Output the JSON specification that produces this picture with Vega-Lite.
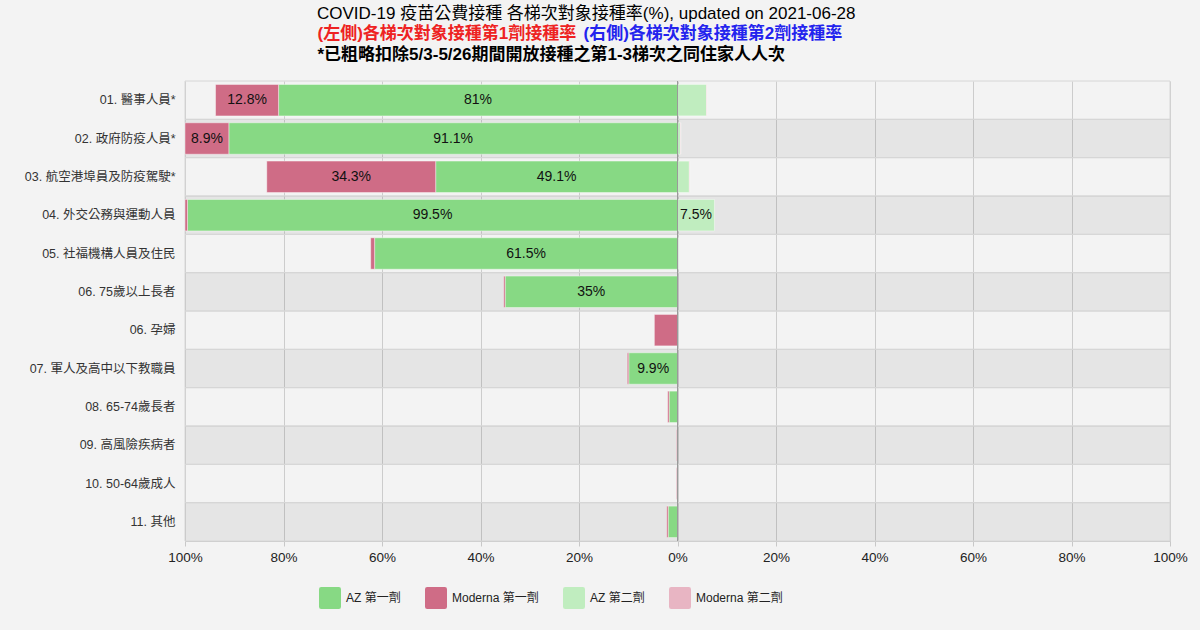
{
  "$schema": "https://vega.github.io/schema/vega-lite/v6.json",
  "width": 985,
  "height": 460,
  "autosize": "none",
  "padding": {"left": 185, "top": 81, "right": 30, "bottom": 89},
  "background": "#f3f3f3",
  "config": {
    "font": "Liberation Sans, Noto Sans CJK TC",
    "view": {"stroke": null}
  },
  "title": {
    "text": "COVID-19 疫苗公費接種 各梯次對象接種率(%), updated on 2021-06-28",
    "anchor": "start",
    "frame": "group",
    "dx": 132,
    "dy": 18,
    "offset": 2,
    "baseline": "bottom",
    "fontSize": 17,
    "fontWeight": "normal",
    "color": "#000000"
  },
  "data": {
    "values": [
      {"group": "01. 醫事人員*", "series": "AZ 第一劑", "x": -81},
      {"group": "01. 醫事人員*", "series": "Moderna 第一劑", "x": -12.8},
      {"group": "01. 醫事人員*", "series": "AZ 第二劑", "x": 5.9},
      {"group": "01. 醫事人員*", "series": "Moderna 第二劑", "x": 0.1},
      {"group": "02. 政府防疫人員*", "series": "AZ 第一劑", "x": -91.1},
      {"group": "02. 政府防疫人員*", "series": "Moderna 第一劑", "x": -8.9},
      {"group": "02. 政府防疫人員*", "series": "AZ 第二劑", "x": 0.6},
      {"group": "02. 政府防疫人員*", "series": "Moderna 第二劑", "x": 0.1},
      {"group": "03. 航空港埠員及防疫駕駛*", "series": "AZ 第一劑", "x": -49.1},
      {"group": "03. 航空港埠員及防疫駕駛*", "series": "Moderna 第一劑", "x": -34.3},
      {"group": "03. 航空港埠員及防疫駕駛*", "series": "AZ 第二劑", "x": 2.4},
      {"group": "03. 航空港埠員及防疫駕駛*", "series": "Moderna 第二劑", "x": 0.1},
      {"group": "04. 外交公務與運動人員", "series": "AZ 第一劑", "x": -99.5},
      {"group": "04. 外交公務與運動人員", "series": "Moderna 第一劑", "x": -0.5},
      {"group": "04. 外交公務與運動人員", "series": "AZ 第二劑", "x": 7.5},
      {"group": "05. 社福機構人員及住民", "series": "AZ 第一劑", "x": -61.5},
      {"group": "05. 社福機構人員及住民", "series": "Moderna 第一劑", "x": -0.8},
      {"group": "05. 社福機構人員及住民", "series": "AZ 第二劑", "x": 0.2},
      {"group": "06. 75歲以上長者", "series": "AZ 第一劑", "x": -35},
      {"group": "06. 75歲以上長者", "series": "Moderna 第一劑", "x": -0.3},
      {"group": "06. 孕婦", "series": "Moderna 第一劑", "x": -4.7},
      {"group": "07. 軍人及高中以下教職員", "series": "AZ 第一劑", "x": -9.9},
      {"group": "07. 軍人及高中以下教職員", "series": "Moderna 第一劑", "x": -0.3},
      {"group": "08. 65-74歲長者", "series": "AZ 第一劑", "x": -1.7},
      {"group": "08. 65-74歲長者", "series": "Moderna 第一劑", "x": -0.3},
      {"group": "09. 高風險疾病者", "series": "Moderna 第一劑", "x": -0.2},
      {"group": "10. 50-64歲成人", "series": "Moderna 第一劑", "x": -0.2},
      {"group": "11. 其他", "series": "AZ 第一劑", "x": -1.9},
      {"group": "11. 其他", "series": "Moderna 第一劑", "x": -0.3}
    ]
  },
  "resolve": {"axis": {"x": "independent"}},
  "layer": [
    {
      "transform": [
        {"aggregate": [{"op": "count", "as": "n"}], "groupby": ["group"]},
        {"window": [{"op": "row_number", "as": "rn"}], "sort": [{"field": "group"}]}
      ],
      "mark": {"type": "rect", "fill": "#000000", "stroke": "#d6d6d6", "strokeWidth": 1},
      "encoding": {
        "y": {
          "field": "group",
          "type": "nominal",
          "sort": "ascending",
          "scale": {"paddingInner": 0, "paddingOuter": 0},
          "axis": {
            "title": null,
            "ticks": false,
            "domain": false,
            "labelFontSize": 12.5,
            "labelColor": "#333333",
            "labelPadding": 10
          }
        },
        "x": {
          "datum": -100,
          "type": "quantitative",
          "scale": {"domain": [-100, 100]},
          "axis": {
            "orient": "top",
            "labels": false,
            "ticks": false,
            "domain": false,
            "grid": false,
            "title": "*已粗略扣除5/3-5/26期間開放接種之第1-3梯次之同住家人人次",
            "titleX": 132,
            "titleY": -18,
            "titleAlign": "left",
            "titleBaseline": "bottom",
            "titleFontSize": 17,
            "titleFontWeight": "bold",
            "titleColor": "#000000"
          }
        },
        "x2": {"datum": 100},
        "fillOpacity": {
          "condition": {"test": "datum.rn % 2 == 0", "value": 0.055},
          "value": 0
        }
      }
    },
    {
      "transform": [
        {"stack": "x", "groupby": ["group"], "sort": [{"field": "series", "order": "ascending"}], "as": ["x0", "x1"]}
      ],
      "mark": {"type": "bar", "height": {"band": 0.82}, "stroke": "#ffffff", "strokeWidth": 0.6, "strokeOpacity": 0.7},
      "encoding": {
        "y": {
          "field": "group",
          "type": "nominal",
          "sort": "ascending",
          "axis": {
            "title": null,
            "ticks": false,
            "domain": false,
            "labelFontSize": 12.5,
            "labelColor": "#333333",
            "labelPadding": 10
          }
        },
        "x": {
          "field": "x0",
          "type": "quantitative",
          "axis": {
            "orient": "bottom",
            "title": null,
            "values": [-100, -80, -60, -40, -20, 0, 20, 40, 60, 80, 100],
            "labelExpr": "abs(datum.value) + '%'",
            "labelFlush": false,
            "labelFontSize": 13.5,
            "labelColor": "#222222",
            "labelPadding": 4,
            "tickSize": 5,
            "tickColor": "#c8c8c8",
            "domainColor": "#c8c8c8",
            "grid": true,
            "gridColor": "#cccccc"
          }
        },
        "x2": {"field": "x1"},
        "color": {
          "field": "series",
          "type": "nominal",
          "scale": {
            "domain": ["AZ 第一劑", "Moderna 第一劑", "AZ 第二劑", "Moderna 第二劑"],
            "range": ["#87d984", "#cf6c86", "#c0edbf", "#e8b5c3"]
          },
          "legend": {
            "title": null,
            "orient": "none",
            "direction": "horizontal",
            "legendX": 134,
            "legendY": 506,
            "padding": 0,
            "gridAlign": "none",
            "columnPadding": 24,
            "symbolType": "M-0.8,-1H0.8Q1,-1 1,-0.8V0.8Q1,1 0.8,1H-0.8Q-1,1 -1,0.8V-0.8Q-1,-1 -0.8,-1Z",
            "symbolSize": 484,
            "symbolStrokeWidth": 0,
            "symbolOpacity": 1,
            "labelFontSize": 12,
            "labelColor": "#222222",
            "labelOffset": 5
          }
        }
      }
    },
    {
      "transform": [
        {"stack": "x", "groupby": ["group"], "sort": [{"field": "series", "order": "ascending"}], "as": ["x0", "x1"]},
        {"filter": "abs(datum.x) >= 7"},
        {"calculate": "(datum.x0 + datum.x1) / 2", "as": "mid"},
        {"calculate": "format(abs(datum.x), '.1~f') + '%'", "as": "label"}
      ],
      "mark": {"type": "text", "fontSize": 14, "color": "#111111", "baseline": "middle"},
      "encoding": {
        "y": {
          "field": "group",
          "type": "nominal",
          "sort": "ascending",
          "axis": {
            "title": null,
            "ticks": false,
            "domain": false,
            "labelFontSize": 12.5,
            "labelColor": "#333333",
            "labelPadding": 10
          }
        },
        "x": {
          "field": "mid",
          "type": "quantitative",
          "axis": {
            "orient": "top",
            "labels": false,
            "ticks": false,
            "domain": false,
            "grid": false,
            "title": "(右側)各梯次對象接種第2劑接種率",
            "titleX": 398,
            "titleY": -39,
            "titleAlign": "left",
            "titleBaseline": "bottom",
            "titleFontSize": 17,
            "titleFontWeight": "bold",
            "titleColor": "#2323ee"
          }
        },
        "text": {"field": "label"}
      }
    },
    {
      "data": {"values": [{"zero": 0}]},
      "mark": {"type": "rule", "color": "#9a9a9a", "strokeWidth": 1},
      "encoding": {
        "x": {
          "field": "zero",
          "type": "quantitative",
          "axis": {
            "orient": "top",
            "labels": false,
            "ticks": false,
            "domain": false,
            "grid": false,
            "title": "(左側)各梯次對象接種第1劑接種率",
            "titleX": 132,
            "titleY": -39,
            "titleAlign": "left",
            "titleBaseline": "bottom",
            "titleFontSize": 17,
            "titleFontWeight": "bold",
            "titleColor": "#ee2222"
          }
        }
      }
    }
  ]
}
